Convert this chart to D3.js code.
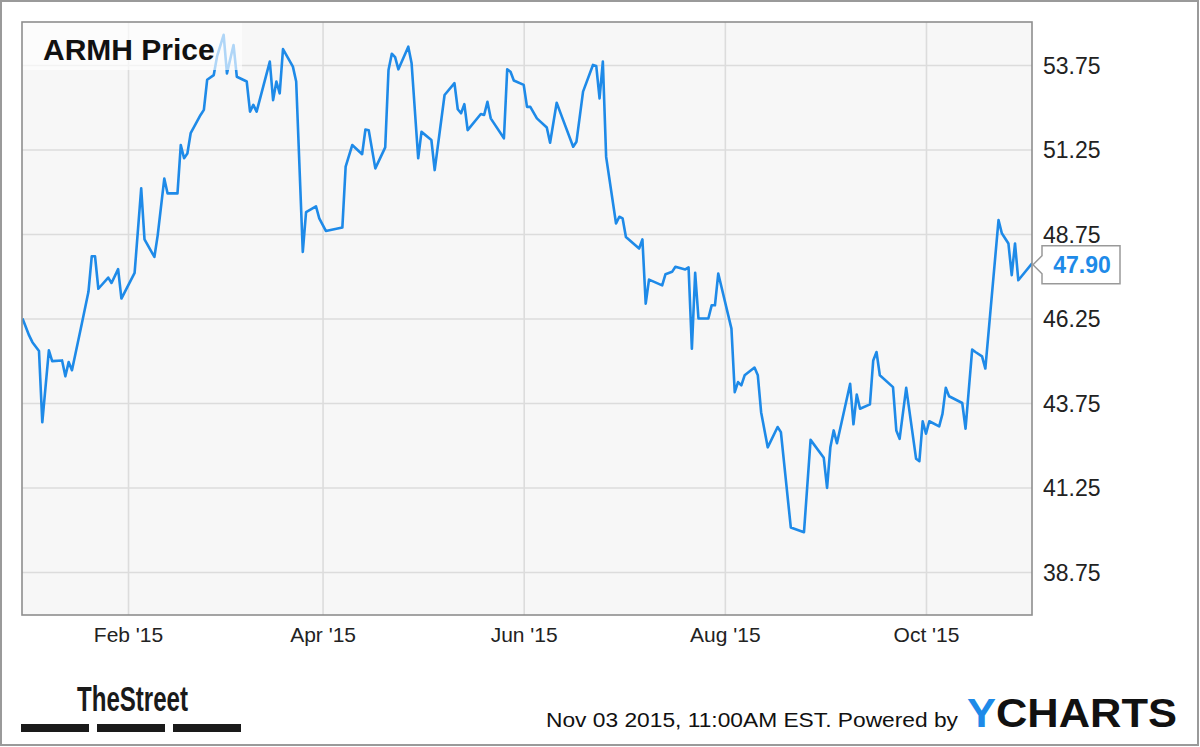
<!DOCTYPE html>
<html>
<head>
<meta charset="utf-8">
<script src="https://cdn.jsdelivr.net/npm/d3@7/dist/d3.min.js"></script>
<style>
  html, body { margin: 0; padding: 0; background: #fff; }
  svg { display: block; font-family: "Liberation Sans", Arial, sans-serif; }
</style>
</head>
<body>
<svg id="chart" width="1200" height="747"></svg>
<script>
const dates = ["2014-12-31","2015-01-02","2015-01-03","2015-01-05","2015-01-06","2015-01-08","2015-01-09","2015-01-12","2015-01-13","2015-01-14","2015-01-15","2015-01-18","2015-01-20","2015-01-21","2015-01-22","2015-01-23","2015-01-26","2015-01-27","2015-01-29","2015-01-30",
"2015-02-03","2015-02-05","2015-02-06","2015-02-09","2015-02-10","2015-02-12","2015-02-13","2015-02-16","2015-02-17","2015-02-18","2015-02-19","2015-02-20","2015-02-23","2015-02-24","2015-02-25","2015-02-27","2015-02-28",
"2015-03-02","2015-03-03","2015-03-05","2015-03-06","2015-03-09","2015-03-10","2015-03-11","2015-03-12","2015-03-14","2015-03-16","2015-03-17","2015-03-18","2015-03-19","2015-03-20","2015-03-23","2015-03-24","2015-03-26","2015-03-27","2015-03-30","2015-03-31",
"2015-04-02","2015-04-07","2015-04-08","2015-04-10","2015-04-13","2015-04-14","2015-04-15","2015-04-17","2015-04-20","2015-04-21","2015-04-22","2015-04-23","2015-04-24","2015-04-27","2015-04-28","2015-04-30",
"2015-05-01","2015-05-04","2015-05-05","2015-05-08","2015-05-11","2015-05-12","2015-05-13","2015-05-14","2015-05-15","2015-05-19","2015-05-20","2015-05-21","2015-05-22","2015-05-26","2015-05-27","2015-05-28","2015-05-29",
"2015-06-01","2015-06-02","2015-06-03","2015-06-05","2015-06-08","2015-06-09","2015-06-11","2015-06-12","2015-06-16","2015-06-17","2015-06-19","2015-06-22","2015-06-23","2015-06-24","2015-06-25","2015-06-26","2015-06-29","2015-06-30",
"2015-07-01","2015-07-02","2015-07-06","2015-07-07","2015-07-08","2015-07-09","2015-07-13","2015-07-14","2015-07-16","2015-07-17","2015-07-20","2015-07-21","2015-07-22","2015-07-23","2015-07-24","2015-07-27","2015-07-28","2015-07-29","2015-07-30",
"2015-08-03","2015-08-04","2015-08-05","2015-08-06","2015-08-07","2015-08-10","2015-08-11","2015-08-12","2015-08-14","2015-08-17","2015-08-18","2015-08-21","2015-08-25","2015-08-27","2015-08-31",
"2015-09-01","2015-09-02","2015-09-03","2015-09-04","2015-09-08","2015-09-09","2015-09-10","2015-09-11","2015-09-14","2015-09-15","2015-09-16","2015-09-17","2015-09-21","2015-09-22","2015-09-23","2015-09-25","2015-09-28","2015-09-29","2015-09-30",
"2015-10-01","2015-10-02","2015-10-05","2015-10-06","2015-10-07","2015-10-08","2015-10-12","2015-10-13","2015-10-15","2015-10-16","2015-10-18","2015-10-19","2015-10-23","2015-10-24","2015-10-26","2015-10-27","2015-10-28","2015-10-29","2015-11-02","2015-11-03"];

const prices = [46.25,45.75,45.55,45.29,43.18,45.31,44.99,45.01,44.54,44.96,44.72,46.10,47.04,48.09,48.09,47.13,47.46,47.30,47.71,46.84,
47.60,50.10,48.59,48.07,48.71,50.39,49.95,49.95,51.38,50.99,51.13,51.73,52.27,52.42,53.31,53.45,54.00,
54.64,53.50,54.34,53.40,53.26,52.37,52.57,52.37,53.11,53.85,52.71,53.26,52.91,54.22,53.70,53.26,48.22,49.40,49.57,49.21,
48.84,48.94,50.74,51.38,51.11,51.84,51.82,50.69,51.31,53.60,54.08,53.98,53.62,54.29,53.80,50.99,
51.77,51.53,50.64,52.86,53.21,52.44,52.32,52.59,51.82,52.30,52.27,52.66,52.17,51.58,53.62,53.55,53.29,
53.16,52.51,52.51,52.17,51.90,51.45,52.63,52.37,51.33,51.48,52.96,53.75,53.72,52.76,53.85,51.03,49.06,49.26,
49.21,48.66,48.32,48.59,46.69,47.40,47.23,47.56,47.63,47.78,47.70,47.76,45.36,47.60,46.25,46.25,46.64,46.64,47.58,
45.95,44.07,44.37,44.27,44.57,44.80,44.57,43.48,42.44,43.04,42.89,40.07,39.93,42.66,42.13,
41.24,42.44,42.94,42.56,44.32,43.12,44.00,43.58,43.71,45.01,45.26,44.57,44.22,42.94,42.69,44.20,42.10,42.03,43.21,
42.84,43.21,43.06,43.43,44.20,43.95,43.75,42.99,45.33,45.26,45.13,44.77,49.16,48.77,48.47,47.53,48.47,47.38,47.86,47.90];

const yTicks = [38.75, 41.25, 43.75, 46.25, 48.75, 51.25, 53.75];
const xTickDates = ["2015-02-01","2015-04-01","2015-06-01","2015-08-01","2015-10-01"];
const xTickLabels = ["Feb '15","Apr '15","Jun '15","Aug '15","Oct '15"];
const titleText = "ARMH Price";
const footerText = "Nov 03 2015, 11:00AM EST.  Powered by";

const parse = d3.timeParse("%Y-%m-%d");
const data = dates.map((d, i) => ({ date: parse(d), value: prices[i] }));

const svg = d3.select("#chart");
const P = { left: 22, top: 22, right: 1032, bottom: 615 };

const x = d3.scaleTime()
  .domain([parse("2014-12-31"), parse("2015-11-03")])
  .range([22.5, 1034.8]);
const y = d3.scaleLinear().domain([37.48, 55.02]).range([P.bottom, P.top]);

// outer frame
svg.append("rect").attr("x", 1).attr("y", 1).attr("width", 1197).attr("height", 744)
  .attr("fill", "#fff").attr("stroke", "#9a9a9a").attr("stroke-width", 2);

// plot background
svg.append("rect").attr("x", P.left).attr("y", P.top)
  .attr("width", P.right - P.left).attr("height", P.bottom - P.top)
  .attr("fill", "#f7f7f7");

// gridlines via axes
const yGrid = d3.axisRight(y).tickValues(yTicks).tickSize(P.right - P.left).tickFormat("");
svg.append("g").attr("transform", `translate(${P.left},0)`).call(yGrid)
  .call(g => g.select(".domain").remove())
  .call(g => g.selectAll("line").attr("stroke", "#dcdcdc").attr("stroke-width", 1.6));

const xGrid = d3.axisBottom(x).tickValues(xTickDates.map(parse)).tickSize(P.bottom - P.top).tickFormat("");
svg.append("g").attr("transform", `translate(0,${P.top})`).call(xGrid)
  .call(g => g.select(".domain").remove())
  .call(g => g.selectAll("line").attr("stroke", "#dcdcdc").attr("stroke-width", 1.6));

// clip
svg.append("clipPath").attr("id", "clip").append("rect")
  .attr("x", P.left).attr("y", P.top).attr("width", P.right - P.left).attr("height", P.bottom - P.top);

// line
const line = d3.line().x(d => x(d.date)).y(d => y(d.value));
svg.append("path").datum(data).attr("clip-path", "url(#clip)")
  .attr("d", line).attr("fill", "none").attr("stroke", "#1e8ae8")
  .attr("stroke-width", 2.6).attr("stroke-linejoin", "round");

// title box
svg.append("rect").attr("x", P.left).attr("y", P.top).attr("width", 220).attr("height", 48)
  .attr("fill", "#fff").attr("fill-opacity", 0.65);
svg.append("text").attr("x", 43).attr("y", 60).text(titleText)
  .attr("font-size", 30).attr("font-weight", "bold").attr("fill", "#111");

// plot border
svg.append("rect").attr("x", P.left).attr("y", P.top)
  .attr("width", P.right - P.left).attr("height", P.bottom - P.top)
  .attr("fill", "none").attr("stroke", "#8e8e8e").attr("stroke-width", 1.6);

// y axis labels
const yAxis = d3.axisRight(y).tickValues(yTicks).tickSize(0).tickPadding(11).tickFormat(d3.format(".2f"));
svg.append("g").attr("transform", `translate(${P.right},0)`).call(yAxis)
  .call(g => g.select(".domain").remove())
  .call(g => g.selectAll("text").attr("font-size", 23).attr("fill", "#222")
    .attr("font-family", "'Liberation Sans', Arial, sans-serif").attr("dy", "0.36em"));

// x axis labels
const xAxis = d3.axisBottom(x).tickValues(xTickDates.map(parse)).tickSize(0).tickPadding(12)
  .tickFormat((d, i) => xTickLabels[i]);
svg.append("g").attr("transform", `translate(0,${P.bottom})`).call(xAxis)
  .call(g => g.select(".domain").remove())
  .call(g => g.selectAll("text").attr("font-size", 21).attr("fill", "#222")
    .attr("font-family", "'Liberation Sans', Arial, sans-serif"));

// last value callout
const last = data[data.length - 1];
const ly = y(last.value) + 2;
const bx = 1042, bw = 78, bh = 38;
svg.append("path")
  .attr("d", `M${bx},${ly - bh / 2} H${bx + bw} V${ly + bh / 2} H${bx} V${ly + 9} L${P.right + 1},${ly} L${bx},${ly - 9} Z`)
  .attr("fill", "#fff").attr("stroke", "#999").attr("stroke-width", 1.5);
svg.append("text").attr("x", bx + bw / 2 + 1).attr("y", ly).attr("dy", "0.36em")
  .attr("text-anchor", "middle").attr("font-size", 23).attr("font-weight", "bold")
  .attr("fill", "#1e8ae8").text(d3.format(".2f")(last.value));

// TheStreet logo
svg.append("text").attr("x", 77).attr("y", 711).text("TheStreet")
  .attr("font-family", "'Liberation Sans Narrow', 'Liberation Sans', Arial, sans-serif")
  .attr("font-size", 35).attr("font-weight", "bold").attr("fill", "#1a1a1a")
  .attr("textLength", 111).attr("lengthAdjust", "spacingAndGlyphs");
[21, 97, 173].forEach(bxx => {
  svg.append("rect").attr("x", bxx).attr("y", 724).attr("width", 68).attr("height", 8).attr("fill", "#1a1a1a");
});

// footer
svg.append("text").attr("x", 546).attr("y", 727).text(footerText)
  .attr("font-size", 20).attr("fill", "#111")
  .attr("textLength", 412).attr("lengthAdjust", "spacingAndGlyphs");

const yc = svg.append("text").attr("x", 967).attr("y", 727)
  .attr("font-size", 40).attr("font-weight", "bold").attr("fill", "#111")
  .attr("textLength", 210).attr("lengthAdjust", "spacingAndGlyphs");
yc.append("tspan").attr("fill", "#1e8ae8").text("Y");
yc.append("tspan").text("CHARTS");
</script>
</body>
</html>
